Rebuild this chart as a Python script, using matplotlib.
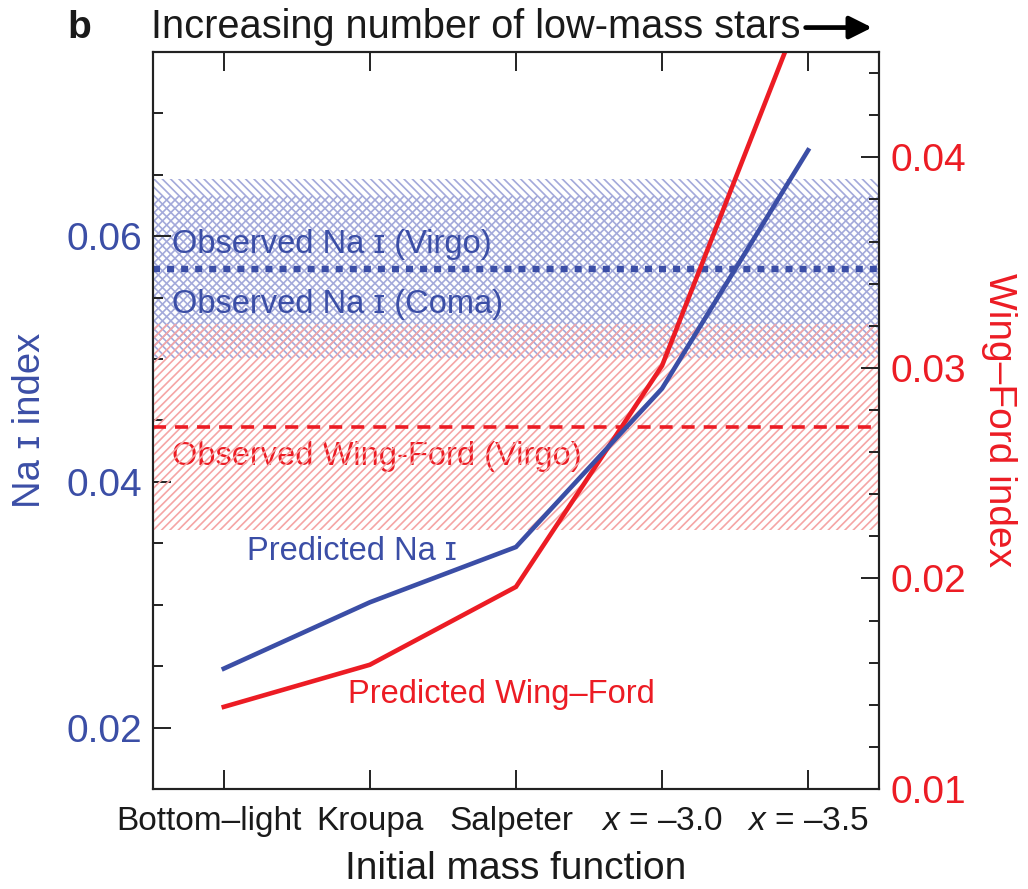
import matplotlib
matplotlib.use("Agg")
import matplotlib.pyplot as plt
import matplotlib.transforms as mtransforms
from matplotlib.patches import FancyArrowPatch
from matplotlib.ticker import MultipleLocator
import numpy as np

# Initial mass function models along the x axis
imf_labels = ["Bottom–light", "Kroupa", "Salpeter", "$x$ = –3.0", "$x$ = –3.5"]

# Model predictions
nai_predicted = [0.0248, 0.0302, 0.0347, 0.0476, 0.0670]   # left axis
wf_predicted = [0.0139, 0.0159, 0.0196, 0.0301, 0.0478]    # right axis

# Observations
nai_observed = 0.0573
nai_virgo_band = (0.0501, 0.0647)
nai_coma_band = (0.0511, 0.0633)
wf_observed = 0.0272
wf_virgo_band = (0.0223, 0.0321)

nai_ticks = [0.02, 0.04, 0.06]
wf_ticks = [0.01, 0.02, 0.03, 0.04]

plt.rcParams["font.family"] = ["Liberation Sans", "DejaVu Sans"]
plt.rcParams["mathtext.fontset"] = "custom"
plt.rcParams["mathtext.it"] = "Liberation Sans:italic"
plt.rcParams["mathtext.rm"] = "Liberation Sans"
plt.rcParams["hatch.linewidth"] = 1.2

BLUE = "#3b4ea6"
RED = "#ec1c24"
BLUE_HATCH = "#a3a9da"
RED_HATCH = "#f5a5a5"
SPINE = "#222222"
TEXT = "#1a1a1a"

fig = plt.figure(figsize=(10.28, 8.89), dpi=100)
rect = [0.1488, 0.1125, 0.7062, 0.829]
ax = fig.add_axes(rect)
ax2 = ax.twinx()
ax3 = fig.add_axes(rect, sharex=ax, sharey=ax)
ax3.axis("off")
ax3.patch.set_visible(False)

x = np.arange(len(imf_labels))

# Observed Na I bands and value (left scale)
ax.axhspan(*nai_virgo_band, facecolor="none", edgecolor=BLUE_HATCH,
           hatch="\\\\\\\\", lw=0)
ax.axhspan(*nai_coma_band, facecolor="none", edgecolor=BLUE_HATCH,
           hatch="////", lw=0)
ax.axhline(nai_observed, color=BLUE, lw=4.6, dashes=(1.1, 1.1))

# Observed Wing-Ford band and value (right scale)
ax2.axhspan(*wf_virgo_band, facecolor="none", edgecolor=RED_HATCH,
            hatch="////", lw=0)
ax2.axhline(wf_observed, color=RED, lw=2.6, dashes=(3.6, 2.5))

# Predictions
ax2.plot(x, wf_predicted, color=RED, lw=3.3, solid_joinstyle="miter")
ax3.plot(x, nai_predicted, color=BLUE, lw=3.3, solid_joinstyle="miter")

ax.set_xlim(-0.485, 4.485)
ax.set_ylim(0.015, 0.075)
ax2.set_ylim(0.01, 0.045)

ax.set_xticks(x)
ax.set_xticklabels(imf_labels)
ax.tick_params(axis="x", direction="in", length=13.5, width=1.4, top=True,
               bottom=True, labelsize=24, pad=12, color=SPINE,
               labelcolor=TEXT)

ax.yaxis.set_ticks_position("left")
ax.set_yticks(nai_ticks)
ax.set_yticklabels([f"{v:.2f}" for v in nai_ticks])
ax.yaxis.set_minor_locator(MultipleLocator(0.005))
ax.tick_params(axis="y", which="major", direction="in", length=13, width=1.4,
               labelsize=28, labelcolor=BLUE, pad=8, color=SPINE)
ax.tick_params(axis="y", which="minor", direction="in", length=7.5, width=1.4,
               color=SPINE)

ax2.set_yticks(wf_ticks)
ax2.set_yticklabels([f"{v:.2f}" for v in wf_ticks])
ax2.yaxis.set_minor_locator(MultipleLocator(0.002))
ax2.tick_params(axis="y", which="major", direction="in", length=13, width=1.4,
                labelsize=28, labelcolor=RED, pad=8, color=SPINE)
ax2.tick_params(axis="y", which="minor", direction="in", length=7.5, width=1.4,
                color=SPINE)

# Nudge the crowded category names apart
nudges_px = [-15, 0, -5, 0, 0]
for lab, dx in zip(ax.get_xticklabels(), nudges_px):
    if dx:
        lab.set_transform(lab.get_transform() + mtransforms.ScaledTranslation(
            dx / 100, 0, fig.dpi_scale_trans))

for a in (ax, ax2):
    for s in a.spines.values():
        s.set_linewidth(1.5)
        s.set_color(SPINE)

ax.set_xlabel("Initial mass function", fontsize=28, color=TEXT)
ax.xaxis.set_label_coords(0.5, -0.084)
ax.set_ylabel("Na ɪ index", fontsize=27.5, color=BLUE)
ax.yaxis.set_label_coords(-0.145, 0.5)
ax2.set_ylabel("Wing–Ford index", fontsize=28, color=RED, rotation=270)
ax2.yaxis.set_label_coords(1.19, 0.5)

# In-panel annotations
notes = [
    (0.026, 0.727, "Observed Na ɪ (Virgo)", BLUE),
    (0.026, 0.646, "Observed Na ɪ (Coma)", BLUE),
    (0.026, 0.440, "Observed Wing-Ford (Virgo)", RED),
    (0.129, 0.311, "Predicted Na ɪ", BLUE),
    (0.269, 0.117, "Predicted Wing–Ford", RED),
]
for tx, ty, s, c in notes:
    ax.text(tx, ty, s, transform=ax.transAxes, color=c, fontsize=23.5,
            va="baseline", ha="left")

# Panel letter and header arrow
fig.text(0.066, 0.957, "b", fontsize=28, fontweight="bold", va="baseline",
         ha="left", color=TEXT)
fig.text(0.147, 0.957, "Increasing number of low-mass stars", fontsize=28.6,
         va="baseline", ha="left", color=TEXT)
fig.add_artist(FancyArrowPatch(
    (0.781, 0.969), (0.851, 0.969), transform=fig.transFigure,
    arrowstyle="-|>", mutation_scale=34, lw=3.4, color="black"))

fig.savefig("out.png", dpi=100)
